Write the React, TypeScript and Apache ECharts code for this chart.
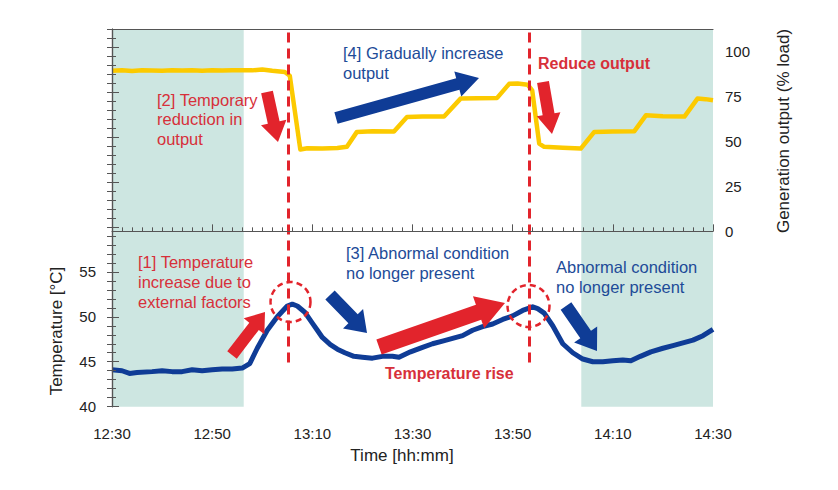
import React, { useEffect, useRef } from "react";
import * as echarts from "echarts";

// ---- data (minutes after 12:30) ----
const tempTime = [0, 2, 3.5, 5, 8, 10, 12, 14, 16, 18, 20, 22, 24, 26, 27.5, 29, 31, 33, 35, 36, 37, 38.5, 40, 41, 42, 43.6, 45, 46.5, 48.3, 50, 52, 54, 56, 57.3, 59.6, 62, 64, 66, 68, 70, 72, 74, 76, 78, 80, 82, 84, 85, 86.3, 88, 90, 92, 94, 96, 98, 100, 102, 103.6, 105.5, 107.6, 110, 112, 114, 116, 118, 120];
const tempValue = [44.1, 44.0, 43.7, 43.8, 43.9, 44.0, 43.9, 43.9, 44.1, 44.0, 44.1, 44.2, 44.2, 44.3, 44.8, 46.5, 48.5, 50.0, 51.2, 51.4, 51.2, 50.5, 49.3, 48.5, 47.7, 46.9, 46.4, 46.0, 45.6, 45.5, 45.4, 45.6, 45.6, 45.5, 46.1, 46.6, 47.0, 47.3, 47.6, 47.9, 48.5, 48.9, 49.2, 49.7, 50.1, 50.7, 51.1, 50.9, 50.4, 49.0, 47.0, 46.0, 45.3, 45.0, 45.0, 45.1, 45.2, 45.1, 45.6, 46.1, 46.5, 46.8, 47.1, 47.4, 47.9, 48.6];

const outTime = [0, 2, 4, 6, 8, 10, 12, 14, 16, 18, 20, 22, 24, 26, 28, 30, 32, 34.5, 35.5, 37.6, 39, 42, 45, 46.9, 48.9, 52, 56.3, 58.9, 62, 66.3, 69.6, 73, 76.9, 79.3, 81, 83, 83.9, 85.3, 86.3, 90, 93.6, 96.3, 100, 104.3, 106.6, 110, 114.3, 116.9, 118.5, 120];
const outValue = [89.3, 89.6, 89.2, 89.6, 89.4, 89.3, 89.6, 89.4, 89.5, 89.3, 89.6, 89.4, 89.5, 89.6, 89.5, 90.0, 89.3, 88.6, 86.5, 45.5, 46.2, 46.0, 46.3, 47.0, 55.3, 55.6, 55.5, 63.6, 63.8, 63.8, 73.8, 74.0, 74.2, 82.0, 82.2, 81.5, 78.4, 48.8, 47.0, 46.5, 46.0, 55.3, 55.5, 55.7, 64.5, 64.0, 63.8, 73.8, 73.5, 72.9];

const xTickLabels = ["12:30", "12:50", "13:10", "13:30", "13:50", "14:10", "14:30"];
const tempTickLabels = [40, 45, 50, 55];
const outTickLabels = [0, 25, 50, 75, 100];

// shaded periods (minutes) and event markers (minutes)
const shadedPeriods = [[0, 26.3], [93.7, 120]];
const eventTimes = [35.2, 83.4];

const FONT = '"Liberation Sans", Arial, Helvetica, sans-serif';
const RED = "#e2242c";
const RED_TEXT = "#d7303a";
const BLUE = "#0f3c96";
const BLUE_TEXT = "#1d4b98";

function arrow(tail: number[], tip: number[], w: number, hw: number, hl: number, fill: string) {
  const dx = tip[0] - tail[0];
  const dy = tip[1] - tail[1];
  const len = Math.hypot(dx, dy);
  const ux = dx / len, uy = dy / len;
  const nx = -uy, ny = ux;
  const bx = tip[0] - ux * hl, by = tip[1] - uy * hl;
  const pts = [
    [tail[0] + nx * w / 2, tail[1] + ny * w / 2],
    [bx + nx * w / 2, by + ny * w / 2],
    [bx + nx * hw / 2, by + ny * hw / 2],
    [tip[0], tip[1]],
    [bx - nx * hw / 2, by - ny * hw / 2],
    [bx - nx * w / 2, by - ny * w / 2],
    [tail[0] - nx * w / 2, tail[1] - ny * w / 2],
  ];
  return { type: "polygon", z: 20, shape: { points: pts }, style: { fill } };
}

function label(text: string, x: number, y: number, color: string, lh = 20, weight = "normal", size = 16.5) {
  return {
    type: "text",
    z: 25,
    x,
    y,
    style: { text, fill: color, font: `${weight} ${size}px ${FONT}`, lineHeight: lh, textVerticalAlign: "top" },
  };
}

export default function App() {
  const ref = useRef<HTMLDivElement>(null);
  useEffect(() => {
    if (!ref.current) return;
    const chart = echarts.init(ref.current, null, { renderer: "svg" });
    const tempData = tempTime.map((t, i) => [t, tempValue[i]]);
    const outData = outTime.map((t, i) => [t, outValue[i]]);
    const rightTicks: number[] = [];
    for (let v = -97.5; v <= 112.5 + 1e-6; v += 5) rightTicks.push(v);

    const axisLineStyle = { color: "#555", width: 1.2 };
    const labelStyle = { color: "#222", fontSize: 15, fontFamily: FONT };

    chart.setOption({
      animation: false,
      grid: { left: 112, right: 125, top: 29, bottom: 83.3 },
      xAxis: [
        {
          type: "value",
          min: 0,
          max: 120,
          interval: 20,
          position: "bottom",
          z: 10,
          axisLine: { lineStyle: axisLineStyle },
          axisTick: { inside: true, length: 7, lineStyle: { color: "#555" } },
          minorTick: { show: true, splitNumber: 10, length: 4, lineStyle: { color: "#555" } },
          axisLabel: { ...labelStyle, margin: 19, formatter: (v: number) => xTickLabels[Math.round(v / 20)] ?? "" },
          splitLine: { show: false },
        },
        {
          type: "value",
          min: 0,
          max: 120,
          position: "top",
          z: 10,
          axisLine: { show: true, lineStyle: axisLineStyle },
          axisTick: { show: false },
          axisLabel: { show: false },
          splitLine: { show: false },
        },
      ],
      yAxis: [
        {
          type: "value",
          min: 40,
          max: 82,
          interval: 5,
          position: "left",
          z: 10,
          axisLine: { show: true, lineStyle: axisLineStyle },
          axisTick: { show: true, inside: true, length: 7, lineStyle: { color: "#555" } },
          minorTick: { show: true, splitNumber: 5, length: 4, lineStyle: { color: "#555" } },
          axisLabel: {
            ...labelStyle,
            margin: 16,
            formatter: (v: number) => (tempTickLabels.includes(v) ? String(v) : ""),
          },
          splitLine: { show: false },
        },
        {
          type: "value",
          min: -97.5,
          max: 112.5,
          position: "right",
          z: 10,
          axisLine: { show: true, lineStyle: axisLineStyle },
          axisTick: { show: true, inside: true, length: 5, customValues: rightTicks, lineStyle: { color: "#555" } },
          axisLabel: { ...labelStyle, margin: 12, customValues: outTickLabels, formatter: (v: number) => String(v) },
          splitLine: { show: false },
        },
      ],
      series: [
        {
          type: "line",
          data: [],
          z: 1,
          silent: true,
          markArea: {
            silent: true,
            itemStyle: { color: "#cde6e1" },
            data: shadedPeriods.map(([a, b]) => [{ xAxis: a }, { xAxis: b }]),
          },
        },
        {
          type: "line",
          yAxisIndex: 1,
          data: outData,
          z: 3,
          showSymbol: false,
          silent: true,
          lineStyle: { color: "#fcca00", width: 4.5, join: "round" },
        },
        {
          type: "line",
          yAxisIndex: 0,
          data: tempData,
          z: 4,
          showSymbol: false,
          silent: true,
          lineStyle: { color: BLUE, width: 5, join: "round" },
          markLine: {
            silent: true,
            symbol: ["none", "none"],
            label: { show: false },
            lineStyle: { color: RED, type: [10, 6], width: 3 },
            data: eventTimes.map((t) => [{ coord: [t, 81.6] }, { coord: [t, 44.6] }]),
          },
        },
      ],
      graphic: [
        // axis names
        {
          type: "text", z: 25, x: 56, y: 331, rotation: Math.PI / 2,
          style: { text: "Temperature [°C]", fill: "#222", font: `17px ${FONT}`, textAlign: "center", textVerticalAlign: "middle" },
        },
        {
          type: "text", z: 25, x: 783, y: 131, rotation: Math.PI / 2,
          style: { text: "Generation output (% load)", fill: "#222", font: `17px ${FONT}`, textAlign: "center", textVerticalAlign: "middle" },
        },
        {
          type: "text", z: 25, x: 402, y: 455,
          style: { text: "Time [hh:mm]", fill: "#222", font: `17px ${FONT}`, textAlign: "center", textVerticalAlign: "middle" },
        },
        // dashed circles at peaks
        { type: "circle", z: 22, shape: { cx: 290.5, cy: 302, r: 20 }, style: { fill: "none", stroke: RED, lineWidth: 2.5, lineDash: [6, 4] } },
        { type: "circle", z: 22, shape: { cx: 528.5, cy: 306, r: 21 }, style: { fill: "none", stroke: RED, lineWidth: 2.5, lineDash: [6, 4] } },
        // arrows
        arrow([232, 355], [265, 312], 12, 26, 18, RED),
        arrow([267, 92], [278, 142], 12, 26, 20, RED),
        arrow([336, 118], [479, 78], 12, 26, 22, BLUE),
        arrow([543, 82], [552, 134], 12, 24, 20, RED),
        arrow([330, 295], [367, 333], 13, 28, 20, BLUE),
        arrow([379, 347], [505, 303], 16, 34, 28, RED),
        arrow([566, 306], [597, 351], 13, 28, 20, BLUE),
        // annotation texts
        label("[1] Temperature\nincrease due to\nexternal factors", 138, 252, RED_TEXT),
        label("[2] Temporary\nreduction in\noutput", 157, 90, RED_TEXT, 19.5),
        label("[4] Gradually increase\noutput", 343, 43, BLUE_TEXT),
        label("Reduce output", 538, 53, RED_TEXT, 20, "bold", 16),
        label("[3] Abnormal condition\nno longer present", 346, 243, BLUE_TEXT),
        label("Abnormal condition\nno longer present", 556, 257, BLUE_TEXT),
        label("Temperature rise", 385, 363, RED_TEXT, 20, "bold", 16),
      ],
    });
    return () => chart.dispose();
  }, []);
  return (
    <div
      ref={ref}
      style={{ position: "fixed", left: 0, top: 0, width: 838, height: 490, background: "#fff" }}
    />
  );
}
